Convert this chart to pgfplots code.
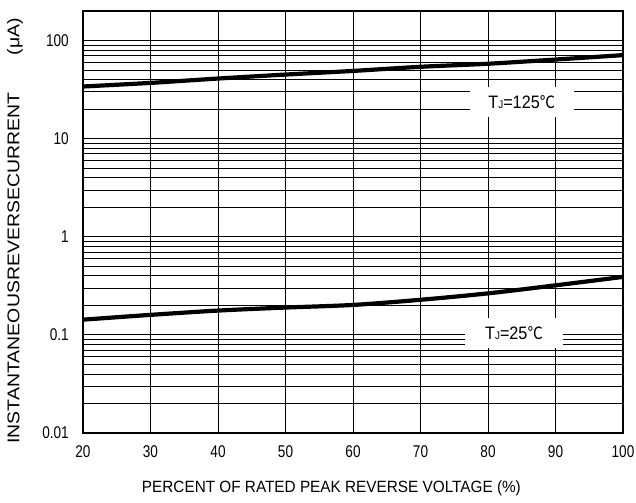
\documentclass[border=0pt]{standalone}
\usepackage{fontspec}
\setmainfont{Liberation Sans}
\newfontfamily\cjk[FakeStretch=0.9]{Noto Sans CJK SC}
\newfontfamily\narrowfont[FakeStretch=0.8]{Liberation Sans}
\newfontfamily\labfont[FakeStretch=0.9]{Liberation Sans}
\newfontfamily\xlabfont[FakeStretch=0.94]{Liberation Sans}
\newfontfamily\ylabfont[FakeStretch=1.145]{Liberation Sans}
\usepackage{pgfplots}
\pgfplotsset{compat=1.18}
\begin{document}
\begin{tikzpicture}
\begin{axis}[
  scale only axis, width=540pt, height=422pt,
  xmin=20, xmax=100, ymode=log, ymin=0.01, ymax=200,
  xtick={20,30,...,100},
  ytick={0.01,0.1,1,10,100},
  yticklabels={0.01,0.1,1,10,100},
  minor ytick={0.02,0.03,0.04,0.05,0.06,0.07,0.08,0.09,
               0.2,0.3,0.4,0.5,0.6,0.7,0.8,0.9,
               2,3,4,5,6,7,8,9,20,30,40,50,60,70,80,90,200},
  grid=both,
  major grid style={black, line width=0.8pt},
  minor grid style={black, line width=0.8pt},
  major tick length=0pt, minor tick length=0pt,
  axis line style={black, line width=1.6pt},
  ticklabel style={font=\narrowfont\fontsize{17}{17}\selectfont, inner sep=0pt},
  /pgf/number format/assume math mode=true,
  xticklabel style={anchor=north, yshift=-12pt},
  yticklabel style={anchor=east, xshift=-14pt},
  xlabel={PERCENT OF RATED PEAK REVERSE VOLTAGE (\%)},
  xlabel style={font=\xlabfont\fontsize{16.3}{16.3}\selectfont, at={(axis description cs:0.46,-0.142)}, anchor=base, inner sep=0pt},
  ylabel={INSTANTANEOUSREVERSECURRENT\hspace{2.2em}(μA)},
  ylabel style={font=\ylabfont\fontsize{17}{17}\selectfont, at={(axis description cs:-0.126,0.479)}, anchor=center, inner sep=0pt},
]
\addplot[black, line width=4.2pt, smooth] coordinates {
 (20,34) (30,37) (40,41) (50,45) (60,49) (70,54) (80,58) (90,64) (100,71)};
\addplot[black, line width=4.2pt, smooth] coordinates {
 (20,0.143) (30,0.16) (40,0.177) (50,0.19) (60,0.202) (70,0.228) (80,0.265) (90,0.32) (100,0.39)};
\node[fill=white, minimum width=104pt, minimum height=30pt, inner sep=0pt, font=\labfont\fontsize{18}{18}\selectfont] at (axis cs:85.0,23.7) {T{\fontsize{11}{11}\selectfont J}=125{\cjk\fontsize{17}{17}\selectfont ℃}};
\node[fill=white, minimum width=98pt, minimum height=30pt, inner sep=0pt, font=\labfont\fontsize{18}{18}\selectfont] at (axis cs:83.85,0.1045) {T{\fontsize{11}{11}\selectfont J}=25{\cjk\fontsize{17}{17}\selectfont ℃}};
\end{axis}
\path ([xshift=-83pt,yshift=11pt]current axis.north west) rectangle ([xshift=13pt,yshift=-69pt]current axis.south east);
\end{tikzpicture}
\end{document}
